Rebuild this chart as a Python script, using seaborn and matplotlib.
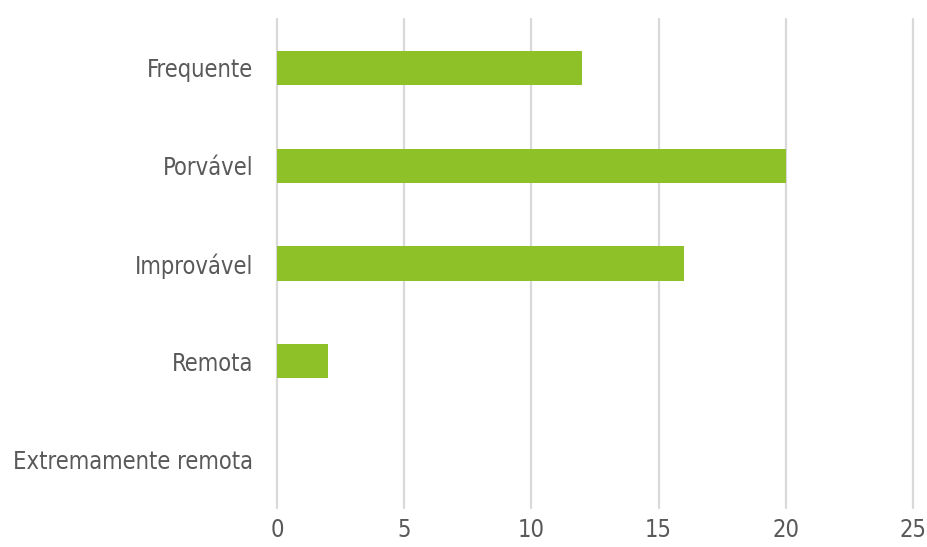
import matplotlib
matplotlib.use("Agg")
import matplotlib.pyplot as plt
import seaborn as sns
import pandas as pd

categories = ["Frequente", "Porvável", "Improvável", "Remota", "Extremamente remota"]
values = [12, 20, 16, 2, 0]
xticks = [0, 5, 10, 15, 20, 25]

sns.set_theme(style="white")
plt.rcParams['font.family'] = ['DejaVu Sans']

df = pd.DataFrame({"cat": categories, "val": values})

fig = plt.figure(figsize=(9.28, 5.47), dpi=100)
ax = fig.add_axes([277/928, 1-508/547, (913-277)/928, (508-19)/547])

sns.barplot(data=df, x="val", y="cat", order=categories, color="#8EC028",
            width=0.35, saturation=1, ax=ax, zorder=3, linewidth=0)

ax.set_xlim(0, 25)
ax.set_ylim(4.5, -0.5)
ax.set_xticks(xticks)
ax.set_xticklabels([str(t) for t in xticks])
ax.set_xlabel("")
ax.set_ylabel("")
ax.xaxis.grid(True, color="#D9D9D9", linewidth=1.6, zorder=0)
for gl in ax.get_xgridlines():
    gl.set_clip_on(False)
ax.yaxis.grid(False)
ax.set_axisbelow(True)
for s in ax.spines.values():
    s.set_visible(False)
ax.tick_params(axis="y", length=0, pad=17, labelsize=17, labelcolor="#595959")
ax.tick_params(axis="x", length=0, pad=7.5, labelsize=17, labelcolor="#595959")
for lab in ax.get_xticklabels() + ax.get_yticklabels():
    lab.set_fontstretch("condensed")

fig.savefig("out.png", dpi=100)
